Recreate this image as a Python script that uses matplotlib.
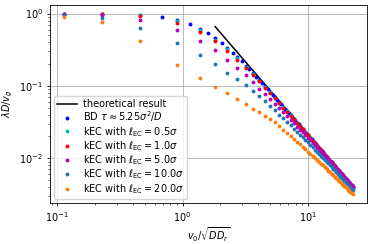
import matplotlib
matplotlib.use("Agg")
import matplotlib.pyplot as plt

# -----------------------------
# data
# -----------------------------
# x = v0/sqrt(D Dr) for the kEC runs (0.25, 0.5, 1, 2, ..., 50 in v0 steps)
x_kec = [0.114, 0.228, 0.455, 0.911, 1.366, 1.822, 2.277, 2.732, 3.188, 3.643,
         4.099, 4.554, 5.009, 5.465, 5.920, 6.376, 6.831, 7.286, 7.742, 8.197,
         8.653, 9.108, 9.563, 10.02, 10.47, 10.93, 11.38, 11.84, 12.30, 12.75,
         13.21, 13.66, 14.12, 14.57, 15.03, 15.48, 15.94, 16.39, 16.85, 17.31,
         17.76, 18.22, 18.67, 19.13, 19.58, 20.04, 20.49, 20.95, 21.40, 21.86,
         22.31, 22.77]

# BD runs are sampled twice as densely
x_bd = [0.114, 0.228, 0.455, 0.683, 0.911, 1.139, 1.366, 1.594, 1.822, 2.049,
        2.277, 2.505, 2.732, 2.960, 3.188, 3.416, 3.643, 3.871, 4.099, 4.326,
        4.554, 4.782, 5.009, 5.237, 5.465, 5.693, 5.920, 6.148, 6.376, 6.603,
        6.831, 7.059, 7.286, 7.514, 7.742, 7.970, 8.197, 8.425, 8.653, 8.880,
        9.108, 9.336, 9.563, 9.791, 10.02, 10.25, 10.47, 10.70, 10.93, 11.16,
        11.38, 11.61, 11.84, 12.07, 12.30, 12.52, 12.75, 12.98, 13.21, 13.43,
        13.66, 13.89, 14.12, 14.35, 14.57, 14.80, 15.03, 15.26, 15.48, 15.71,
        15.94, 16.17, 16.39, 16.62, 16.85, 17.08, 17.31, 17.53, 17.76, 17.99,
        18.22, 18.44, 18.67, 18.90, 19.13, 19.35, 19.58, 19.81, 20.04, 20.26,
        20.49, 20.72, 20.95, 21.17, 21.40, 21.63, 21.86, 22.09, 22.31, 22.54,
        22.77]

y_bd = [0.99, 0.99, 0.961, 0.900, 0.815, 0.718, 0.621, 0.532, 0.454, 0.388,
        0.333, 0.287, 0.249, 0.218, 0.191, 0.169, 0.1505, 0.1345, 0.121, 0.1093,
        0.0991, 0.0903, 0.0825, 0.0757, 0.0697, 0.0644, 0.0596, 0.0554, 0.0515, 0.0481,
        0.0450, 0.04204, 0.03945, 0.03710, 0.03495, 0.03298, 0.03117, 0.02951, 0.02798, 0.02656,
        0.02525, 0.02403, 0.02290, 0.02185, 0.02087, 0.01995, 0.01909, 0.01829, 0.01753, 0.01683,
        0.01616, 0.01553, 0.01494, 0.01438, 0.01385, 0.01336, 0.01288, 0.01243, 0.01201, 0.01161,
        0.01122, 0.01086, 0.01051, 0.01018, 0.00986, 0.00956, 0.00927, 0.00900, 0.00874, 0.00849,
        0.00824, 0.00797, 0.00775, 0.00754, 0.00734, 0.00715, 0.00696, 0.00678, 0.00661, 0.00644,
        0.00628, 0.00613, 0.00598, 0.00584, 0.00570, 0.00556, 0.00544, 0.00531, 0.00519, 0.00508,
        0.00496, 0.00485, 0.00475, 0.00465, 0.00455, 0.00445, 0.00436, 0.00427, 0.00419, 0.00410,
        0.00402]

y_ec05 = [0.99, 0.985, 0.947, 0.778, 0.593, 0.4345, 0.320, 0.240, 0.185, 0.1467,
          0.1183, 0.0971, 0.0811, 0.0687, 0.0588, 0.0509, 0.0446, 0.0391, 0.0347, 0.0310,
          0.0278, 0.02512, 0.02283, 0.02081, 0.01904, 0.01749, 0.01612, 0.01491, 0.01382, 0.01285,
          0.01199, 0.01120, 0.01050, 0.00985, 0.00926, 0.00873, 0.00823, 0.00774, 0.00733, 0.00695,
          0.00660, 0.00627, 0.00597, 0.00569, 0.00543, 0.00518, 0.00495, 0.00474, 0.00454, 0.00435,
          0.00418, 0.00401]

y_ec1 = [0.99, 0.98, 0.932, 0.742, 0.565, 0.415, 0.308, 0.2316, 0.1795, 0.1425,
         0.1153, 0.0949, 0.0794, 0.0674, 0.0579, 0.0502, 0.0440, 0.03866, 0.03432, 0.03067,
         0.02759, 0.02495, 0.02265, 0.02066, 0.01892, 0.01739, 0.01605, 0.01485, 0.01378, 0.01283,
         0.01197, 0.01120, 0.01051, 0.00986, 0.00927, 0.00874, 0.00824, 0.00776, 0.00735, 0.00697,
         0.00662, 0.00629, 0.00599, 0.00571, 0.00545, 0.00520, 0.00497, 0.00476, 0.00456, 0.00437,
         0.00420, 0.00403]

y_ec5 = [0.99, 0.97, 0.81, 0.59, 0.42, 0.31, 0.23, 0.177, 0.1394, 0.1121,
         0.0920, 0.0768, 0.0652, 0.0561, 0.0489, 0.0430, 0.03825, 0.03393, 0.03041, 0.02743,
         0.02490, 0.02273, 0.02084, 0.01916, 0.01768, 0.01636, 0.01519, 0.01413, 0.01319, 0.01233,
         0.01155, 0.01085, 0.01021, 0.00961, 0.00908, 0.00858, 0.00812, 0.00766, 0.00727, 0.00690,
         0.00657, 0.00625, 0.00597, 0.00570, 0.00545, 0.00520, 0.00497, 0.00477, 0.00457, 0.00439,
         0.00422, 0.00405]

y_ec10 = [0.97, 0.86, 0.63, 0.39, 0.268, 0.20, 0.153, 0.124, 0.102, 0.085,
          0.0718, 0.0612, 0.0526, 0.0458, 0.0402, 0.0356, 0.03186, 0.02848, 0.02569, 0.02332,
          0.02126, 0.01947, 0.01788, 0.01651, 0.01527, 0.01416, 0.01319, 0.01230, 0.01150, 0.01077,
          0.01011, 0.00951, 0.00897, 0.00846, 0.00800, 0.00758, 0.00718, 0.00678, 0.00645, 0.00614,
          0.00585, 0.00558, 0.00533, 0.00510, 0.00488, 0.00467, 0.00447, 0.00429, 0.00412, 0.00395,
          0.00381, 0.00366]

y_ec20 = [0.91, 0.756, 0.42, 0.196, 0.129, 0.098, 0.079, 0.066, 0.0555, 0.0485,
          0.0433, 0.0385, 0.0345, 0.0312, 0.0277, 0.0247, 0.0225, 0.02032, 0.01852, 0.01693,
          0.01553, 0.01432, 0.01326, 0.01231, 0.01147, 0.01073, 0.01005, 0.00944, 0.00889, 0.00838,
          0.00793, 0.00751, 0.00712, 0.00675, 0.00642, 0.00613, 0.00583, 0.00554, 0.00530, 0.00507,
          0.00486, 0.00466, 0.00447, 0.00430, 0.00413, 0.00398, 0.00383, 0.00369, 0.00356, 0.00343,
          0.00332, 0.00320]

# asymptotic prediction (straight line in log-log, slope -2)
x_theory = [1.82, 22.77]
y_theory = [0.66, 0.0041]

kec_series = [
    (y_ec05, "c", r"kEC with $\ell_{\rm EC} = 0.5\sigma$"),
    (y_ec1, "r", r"kEC with $\ell_{\rm EC} = 1.0\sigma$"),
    (y_ec5, "m", r"kEC with $\ell_{\rm EC} = 5.0\sigma$"),
    (y_ec10, "C0", r"kEC with $\ell_{\rm EC} = 10.0\sigma$"),
    (y_ec20, "C1", r"kEC with $\ell_{\rm EC} = 20.0\sigma$"),
]

# -----------------------------
# plot (everything ~0.7 of the default sizes)
# -----------------------------
plt.rcParams.update({
    "font.size": 7,
    "axes.linewidth": 0.6,
    "xtick.major.size": 2.5, "ytick.major.size": 2.5,
    "xtick.minor.size": 1.5, "ytick.minor.size": 1.5,
    "xtick.major.width": 0.6, "ytick.major.width": 0.6,
    "xtick.minor.width": 0.45, "ytick.minor.width": 0.45,
    "xtick.major.pad": 2.4, "ytick.major.pad": 2.4,
    "axes.labelpad": 2.8,
})

fig = plt.figure(figsize=(3.73, 2.44), dpi=100)
ax = fig.add_axes([0.134, 0.168, 0.85, 0.812])

ax.plot(x_theory, y_theory, "k-", lw=1.1, label="theoretical result")
ax.plot(x_bd, y_bd, "o", color="b", ms=2.8, mew=0,
        label=r"BD $\tau \approx 5.25\sigma^2/D$")
for ys, col, lab in kec_series:
    ax.plot(x_kec, ys, "o", color=col, ms=2.8, mew=0, label=lab)

ax.set_xscale("log")
ax.set_yscale("log")
ax.grid(True, which="major", color="#b0b0b0", lw=0.6)
ax.set_xlabel(r"$v_0/\sqrt{DD_r}$", labelpad=1.0)
ax.set_ylabel(r"$\lambda D/v_g$")
ax.legend(loc="lower left", borderaxespad=0.4, labelspacing=0.05,
          borderpad=0.35, handletextpad=0.6)

fig.savefig("out.png", dpi=100)
